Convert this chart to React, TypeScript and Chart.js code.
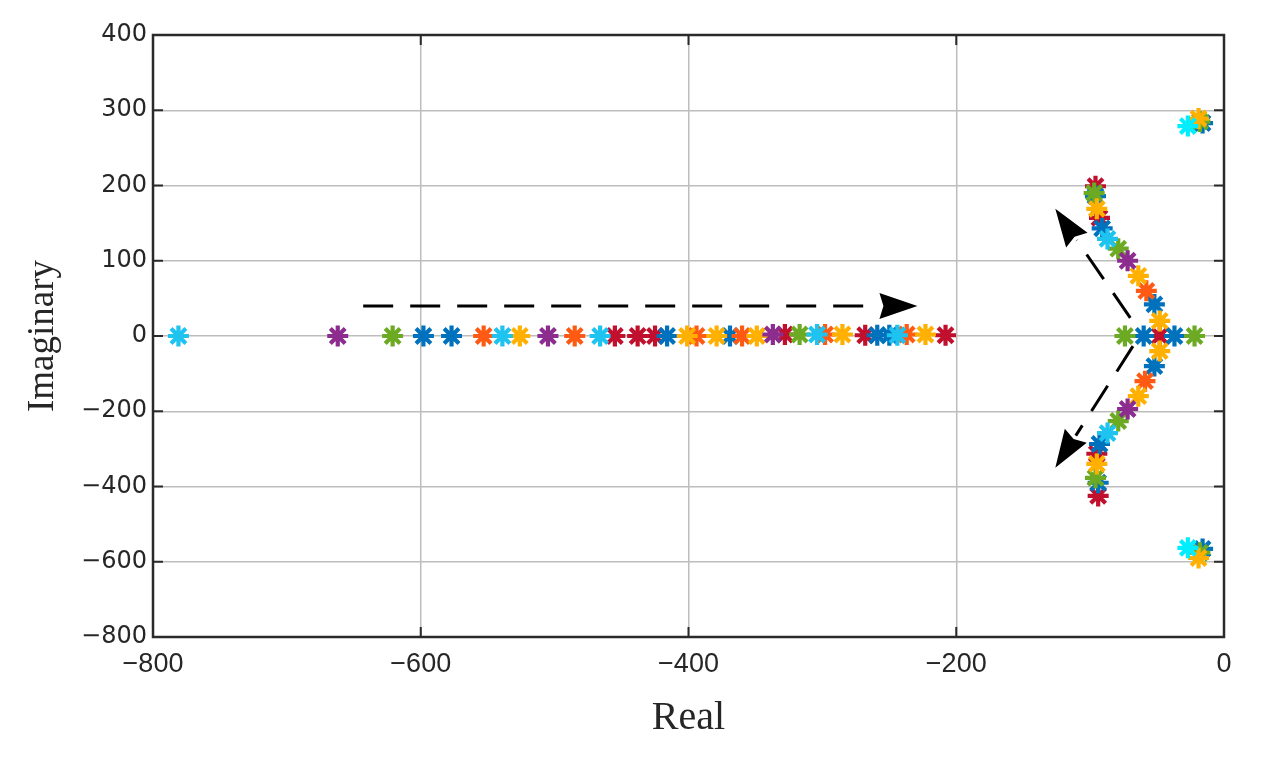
import React, { useEffect, useRef } from "react";
import { Chart, registerables } from "chart.js";

Chart.register(...registerables);

// Axis ticks (note: the imaginary axis uses 100 per step above 0 and 200 per step below 0)
const xTickValues = [-800, -600, -400, -200, 0];
const yTickLabels = [400, 300, 200, 100, 0, -200, -400, -600, -800];

// Pole locations, grouped by marker colour (Real, Imaginary)
const cyanBrightRe = [-27, -27];
const cyanBrightIm = [279, -563];

const cyanRe = [-781, -539, -466, -304, -244, -87, -87];
const cyanIm = [0, 0, 0, 2, 1, 129, -258];

const purpleRe = [-662, -505, -337, -72, -72];
const purpleIm = [0, 0, 2, 100, -194];

const yellowRe = [-526, -401, -379, -349, -285, -223, -48, -48, -95, -64, -64, -95, -19, -19];
const yellowIm = [0, 0, 0, 0, 2, 2, 20, -40, 169, 80, -160, -340, 289, -590];

const orangeRe = [-553, -485, -394, -360, -298, -237, -58, -59];
const orangeIm = [0, 0, 0, 0, 2, 2, 60, -120];

const greenRe = [-621, -317, -74, -22, -97, -79, -79, -96, -18, -18];
const greenIm = [0, 2, 0, 0, 190, 116, -226, -377, 285, -576];

const blueRe = [-598, -577, -416, -369, -259, -250, -60, -37, -96, -91, -52, -52, -93, -94, -16, -16];
const blueIm = [0, 0, 0, 0, 1, 1, 0, 0, 186, 143, 42, -80, -287, -390, 283, -566];

const redRe = [-455, -438, -425, -328, -268, -208, -48, -96, -93, -95, -94];
const redIm = [0, 0, 0, 2, 1, 1, 0, 199, 157, -313, -425];

// Annotation arrows (Real, Imaginary of tail and tip)
const arrowFromRe = [-643, -70, -68];
const arrowFromIm = [40, 24, -27];
const arrowToRe = [-229, -126, -126];
const arrowToIm = [40, 169, -350];

const seriesList = [
  { name: "c2", re: cyanBrightRe, im: cyanBrightIm, color: "#00EEFF" },
  { name: "c", re: cyanRe, im: cyanIm, color: "#1EC3F0" },
  { name: "p", re: purpleRe, im: purpleIm, color: "#8B2C8E" },
  { name: "y", re: yellowRe, im: yellowIm, color: "#FFB000" },
  { name: "o", re: orangeRe, im: orangeIm, color: "#FF5A14" },
  { name: "g", re: greenRe, im: greenIm, color: "#6BAA22" },
  { name: "b", re: blueRe, im: blueIm, color: "#0072BD" },
  { name: "r", re: redRe, im: redIm, color: "#C0102E" },
];

// map an imaginary value to the piecewise axis (negative half compressed by 2)
const toPlot = (v: number) => (v >= 0 ? v : v / 2);
const fromPlot = (v: number) => (v >= 0 ? v : v * 2);
const fmt = (v: number) => (v < 0 ? "\u2212" + Math.abs(v) : String(v));

const framePlugin = {
  id: "frameTicks",
  beforeDatasetsDraw(chart: any) {
    const { ctx, chartArea: a, scales } = chart;
    ctx.save();
    ctx.strokeStyle = "#2a2a2a";
    ctx.lineWidth = 2;
    const L = 10;
    ctx.beginPath();
    scales.x.ticks.forEach((t: any) => {
      const px = scales.x.getPixelForValue(t.value);
      ctx.moveTo(px, a.bottom);
      ctx.lineTo(px, a.bottom - L);
      ctx.moveTo(px, a.top);
      ctx.lineTo(px, a.top + L);
    });
    scales.y.ticks.forEach((t: any) => {
      const py = scales.y.getPixelForValue(t.value);
      ctx.moveTo(a.left, py);
      ctx.lineTo(a.left + L, py);
      ctx.moveTo(a.right, py);
      ctx.lineTo(a.right - L, py);
    });
    ctx.stroke();
    ctx.lineWidth = 2.5;
    ctx.strokeRect(a.left, a.top, a.right - a.left, a.bottom - a.top);
    ctx.restore();
  },
};

const arrowPlugin = {
  id: "arrows",
  afterDatasetsDraw(chart: any) {
    const { ctx, scales } = chart;
    ctx.save();
    ctx.strokeStyle = "#000";
    ctx.fillStyle = "#000";
    ctx.lineWidth = 3;
    for (let i = 0; i < arrowFromRe.length; i++) {
      const x0 = scales.x.getPixelForValue(arrowFromRe[i]);
      const y0 = scales.y.getPixelForValue(toPlot(arrowFromIm[i]));
      const x1 = scales.x.getPixelForValue(arrowToRe[i]);
      const y1 = scales.y.getPixelForValue(toPlot(arrowToIm[i]));
      const ang = Math.atan2(y1 - y0, x1 - x0);
      const head = 38;
      const hw = 13;
      const c = Math.cos(ang);
      const s = Math.sin(ang);
      const bx = x1 - head * c;
      const by = y1 - head * s;
      ctx.setLineDash([30, 17]);
      ctx.beginPath();
      ctx.moveTo(x0, y0);
      ctx.lineTo(bx, by);
      ctx.stroke();
      ctx.setLineDash([]);
      ctx.beginPath();
      ctx.moveTo(x1, y1);
      ctx.lineTo(bx - hw * s, by + hw * c);
      ctx.lineTo(bx + 4 * c, by + 4 * s);
      ctx.lineTo(bx + hw * s, by - hw * c);
      ctx.closePath();
      ctx.fill();
    }
    ctx.restore();
  },
};

export default function App() {
  const canvasRef = useRef<HTMLCanvasElement | null>(null);

  useEffect(() => {
    if (!canvasRef.current) return;
    const datasets = seriesList.map((s) => ({
      label: s.name,
      data: s.re.map((r, i) => ({ x: r, y: toPlot(s.im[i]) })),
      showLine: false,
      pointStyle: "star",
      pointRadius: 10.5,
      pointBorderWidth: 4.2,
      pointBorderColor: s.color,
      pointBackgroundColor: s.color,
      borderColor: s.color,
      backgroundColor: s.color,
    }));

    const chart = new Chart(canvasRef.current, {
      type: "scatter",
      data: { datasets },
      options: {
        animation: false,
        responsive: true,
        maintainAspectRatio: false,
        events: [],
        layout: { padding: { left: 0, right: 38, top: 35, bottom: 0 } },
        plugins: {
          legend: { display: false },
          tooltip: { enabled: false },
        },
        scales: {
          x: {
            type: "linear",
            min: xTickValues[0],
            max: xTickValues[xTickValues.length - 1],
            afterBuildTicks: (scale: any) => {
              scale.ticks = xTickValues.map((v) => ({ value: v }));
            },
            afterFit: (scale: any) => {
              scale.height = 127;
            },
            ticks: {
              padding: 11,
              color: "#262626",
              font: { family: "'Liberation Sans', Arial, sans-serif", size: 27 },
              callback: (v: any) => fmt(Number(v)),
              maxRotation: 0,
            },
            grid: { color: "#bdbdbd", lineWidth: 1.5, drawTicks: false },
            border: { display: false },
            title: {
              display: true,
              text: "Real",
              color: "#262626",
              font: { family: "'Liberation Serif', 'Times New Roman', serif", size: 40 },
              padding: { top: 0, bottom: 22 },
            },
          },
          y: {
            type: "linear",
            min: toPlot(yTickLabels[yTickLabels.length - 1]),
            max: toPlot(yTickLabels[0]),
            afterBuildTicks: (scale: any) => {
              scale.ticks = yTickLabels.map((v) => ({ value: toPlot(v) })).reverse();
            },
            afterFit: (scale: any) => {
              scale.width = 153;
            },
            ticks: {
              padding: 6,
              color: "#262626",
              font: { family: "'DejaVu Sans', sans-serif", size: 24 },
              callback: (v: any) => fmt(fromPlot(Number(v))),
            },
            grid: { color: "#bdbdbd", lineWidth: 1.5, drawTicks: false },
            border: { display: false },
            title: {
              display: true,
              text: "Imaginary",
              color: "#262626",
              font: { family: "'Liberation Serif', 'Times New Roman', serif", size: 37 },
              padding: { top: 21, bottom: 0 },
            },
          },
        },
      },
      plugins: [framePlugin, arrowPlugin],
    } as any);

    return () => chart.destroy();
  }, []);

  return (
    <div style={{ position: "fixed", left: 0, top: 0, width: 1262, height: 764, background: "#fff" }}>
      <canvas ref={canvasRef} />
    </div>
  );
}
